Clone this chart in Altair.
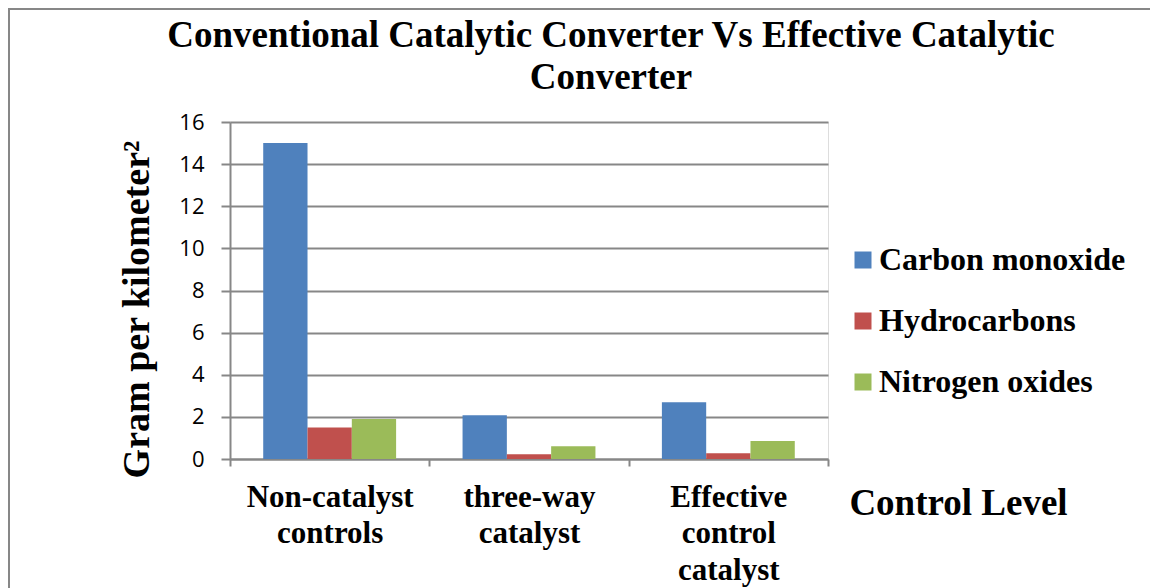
import altair as alt
import pandas as pd

categories = ["Non-catalyst controls", "three-way catalyst", "Effective control catalyst"]
series = ["Carbon monoxide", "Hydrocarbons", "Nitrogen oxides"]
carbon_monoxide = [15.0, 2.08, 2.7]
hydrocarbons = [1.5, 0.22, 0.27]
nitrogen_oxides = [1.9, 0.6, 0.85]
colors = ["#4F81BD", "#C0504D", "#9BBB59"]
y_ticks = [0, 2, 4, 6, 8, 10, 12, 14, 16]

rows = []
for s, vals in zip(series, [carbon_monoxide, hydrocarbons, nitrogen_oxides]):
    for c, v in zip(categories, vals):
        rows.append({"level": c, "pollutant": s, "value": v})
df = pd.DataFrame(rows)

GRID = "#878787"
SERIF = "Liberation Serif"

bars = alt.Chart(df).mark_bar().encode(
    x=alt.X(
        "level:N",
        sort=categories,
        scale=alt.Scale(paddingInner=0, paddingOuter=0),
        axis=alt.Axis(
            title="Control Level",
            titleX=728,
            titleY=44,
            titleBaseline="middle",
            titleAlign="center",
            titleFont=SERIF,
            titleFontSize=37,
            titleFontWeight="bold",
            titleColor="black",
            labelAngle=0,
            labelFont=SERIF,
            labelFontSize=31,
            labelFontWeight="bold",
            labelColor="black",
            labelBaseline="top",
            labelLineHeight=36.5,
            labelPadding=16,
            labelExpr="split(datum.label, ' ')",
            tickBand="extent",
            tickSize=7,
            tickColor=GRID,
            tickWidth=2,
            domainColor=GRID,
            domainWidth=2,
            grid=False,
        ),
    ),
    xOffset=alt.XOffset(
        "pollutant:N", sort=series, scale=alt.Scale(paddingInner=0, paddingOuter=0.75)
    ),
    y=alt.Y(
        "value:Q",
        scale=alt.Scale(domain=[0, 16], nice=False),
        axis=alt.Axis(
            title="Gram per kilometer²",
            values=y_ticks,
            titleX=-93,
            titleY=187,
            titleBaseline="middle",
            titleAlign="center",
            titleFont=SERIF,
            titleFontSize=38,
            titleFontWeight="bold",
            titleColor="black",
            labelFont="Open Sans",
            labelFontSize=22,
            labelColor="black",
            labelPadding=17,
            tickSize=9,
            tickColor=GRID,
            tickWidth=2,
            domainColor=GRID,
            domainWidth=2,
            gridColor=GRID,
            gridWidth=2,
        ),
    ),
    color=alt.Color(
        "pollutant:N",
        sort=series,
        scale=alt.Scale(domain=series, range=colors),
        legend=alt.Legend(
            title=None,
            orient="none",
            legendX=617,
            legendY=122,
            symbolType="square",
            symbolSize=289,
            symbolStrokeWidth=0,
            labelFont=SERIF,
            labelFontSize=32,
            labelFontWeight="bold",
            labelColor="black",
            labelOffset=0,
            labelLimit=400,
            rowPadding=29,
            padding=0,
        ),
    ),
)

frame_df = pd.DataFrame({"a": [0]})
left_line = alt.Chart(frame_df).mark_rule(color=GRID, strokeWidth=2).encode(
    x=alt.value(-221), y=alt.value(-113), y2=alt.value(480)
)
top_line = alt.Chart(frame_df).mark_rule(color=GRID, strokeWidth=2).encode(
    x=alt.value(-222), x2=alt.value(927), y=alt.value(-113)
)

chart = alt.layer(bars, left_line, top_line).properties(
    width=598,
    height=337,
    title=alt.TitleParams(
        text=["Conventional Catalytic Converter Vs Effective Catalytic", "Converter"],
        font=SERIF,
        fontSize=37,
        fontWeight="bold",
        color="black",
        anchor="middle",
        frame="group",
        dx=82,
        baseline="top",
        offset=-89,
        lineHeight=42,
    ),
    padding={"left": 222, "top": 114, "right": 322, "bottom": 130},
    autosize=alt.AutoSizeParams(type="none"),
).configure_view(stroke=None).configure(background="white")

chart.save("out.html", embed_options={"renderer": "svg", "actions": False})
